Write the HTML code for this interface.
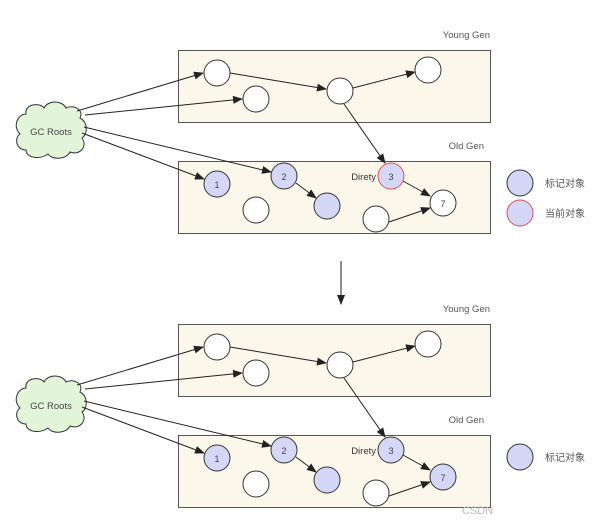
<!DOCTYPE html>
<html><head><meta charset="utf-8"><style>
html,body{margin:0;padding:0;background:#fff;}
svg{display:block;}
text{font-family:"Liberation Sans","Noto Sans CJK SC",sans-serif;}
</style></head><body>
<svg width="612" height="527" viewBox="0 0 612 527" xmlns="http://www.w3.org/2000/svg">
<defs>
<marker id="a" markerWidth="10" markerHeight="8" refX="9" refY="4" orient="auto" markerUnits="userSpaceOnUse">
<path d="M0,0 L10,4 L0,8 z" fill="#222"/></marker>
<g id="cloud">
<path d="M26,114 C24,104 40,102 44,108 C48,100 62,100 66,108 C74,104 84,110 80,118 C88,122 88,134 82,138 C88,146 80,156 70,152 C66,160 52,160 48,154 C40,160 26,158 26,150 C16,150 14,138 20,134 C12,126 18,114 26,114 Z" fill="#e3f5d9" stroke="#333" stroke-width="1"/>
<text x="51" y="135" font-size="9.5" fill="#444" text-anchor="middle">GC Roots</text>
</g>
</defs>

<!-- TOP -->
<text x="490" y="38" font-size="9.5" fill="#555" text-anchor="end">Young Gen</text>
<rect x="178.5" y="50.5" width="312" height="72" fill="#fbf8eb" stroke="#555" stroke-width="1"/>
<text x="484" y="149" font-size="9.5" fill="#555" text-anchor="end">Old Gen</text>
<rect x="178.5" y="161.5" width="312" height="72" fill="#fbf8eb" stroke="#555" stroke-width="1"/>
<use href="#cloud"/>
<g stroke="#222" stroke-width="1" fill="none" marker-end="url(#a)">
<line x1="77" y1="111" x2="203" y2="73"/>
<line x1="85" y1="115" x2="242" y2="99"/>
<line x1="84" y1="127" x2="271" y2="172"/>
<line x1="82" y1="133" x2="204" y2="179"/>
<line x1="230" y1="73" x2="326" y2="89"/>
<line x1="353" y1="88" x2="415" y2="72"/>
<line x1="344" y1="104" x2="385" y2="163"/>
<line x1="296" y1="183" x2="316" y2="198"/>
<line x1="403" y1="181" x2="430" y2="196"/>
<line x1="389" y1="222" x2="430" y2="208"/>
</g>
<g stroke="#333" stroke-width="1">
<circle cx="217" cy="73" r="13" fill="#fff"/>
<circle cx="256" cy="99" r="13" fill="#fff"/>
<circle cx="340" cy="91" r="13" fill="#fff"/>
<circle cx="428" cy="70" r="13" fill="#fff"/>
<circle cx="217" cy="184" r="13" fill="#d4d8f6"/>
<circle cx="284" cy="176" r="13" fill="#d4d8f6"/>
<circle cx="256" cy="210" r="13" fill="#fff"/>
<circle cx="327" cy="206" r="13" fill="#d4d8f6"/>
<circle cx="376" cy="219" r="13" fill="#fff"/>
<circle cx="443" cy="203" r="13" fill="#fff"/>
<circle cx="520" cy="183" r="13" fill="#d4d8f6"/>
</g>
<circle cx="391" cy="176" r="13" fill="#d4d8f6" stroke="#e05050" stroke-width="1"/>
<circle cx="520" cy="213" r="13" fill="#d4d8f6" stroke="#e05050" stroke-width="1"/>
<g font-size="9" fill="#444" text-anchor="middle">
<text x="217" y="188">1</text><text x="284" y="180">2</text><text x="391" y="180">3</text><text x="443" y="207">7</text>
</g>
<text x="376" y="180" font-size="9.5" fill="#333" text-anchor="end">Direty</text>
<text x="545" y="187" font-size="10" fill="#555">标记对象</text>
<text x="545" y="217" font-size="10" fill="#555">当前对象</text>

<!-- ARROW DOWN -->
<line x1="341" y1="261" x2="341" y2="304" stroke="#444" stroke-width="1.2" marker-end="url(#a)"/>

<!-- BOTTOM -->
<text x="490" y="312" font-size="9.5" fill="#555" text-anchor="end">Young Gen</text>
<rect x="178.5" y="324.5" width="312" height="72" fill="#fbf8eb" stroke="#555" stroke-width="1"/>
<text x="484" y="423" font-size="9.5" fill="#555" text-anchor="end">Old Gen</text>
<rect x="178.5" y="435.5" width="312" height="72" fill="#fbf8eb" stroke="#555" stroke-width="1"/>
<use href="#cloud" transform="translate(0,274)"/>
<g transform="translate(0,274)">
<g stroke="#222" stroke-width="1" fill="none" marker-end="url(#a)">
<line x1="77" y1="111" x2="203" y2="73"/>
<line x1="85" y1="115" x2="242" y2="99"/>
<line x1="84" y1="127" x2="271" y2="172"/>
<line x1="82" y1="133" x2="204" y2="179"/>
<line x1="230" y1="73" x2="326" y2="89"/>
<line x1="353" y1="88" x2="415" y2="72"/>
<line x1="344" y1="104" x2="385" y2="163"/>
<line x1="296" y1="183" x2="316" y2="198"/>
<line x1="403" y1="181" x2="430" y2="196"/>
<line x1="389" y1="222" x2="430" y2="208"/>
</g>
<g stroke="#333" stroke-width="1">
<circle cx="217" cy="73" r="13" fill="#fff"/>
<circle cx="256" cy="99" r="13" fill="#fff"/>
<circle cx="340" cy="91" r="13" fill="#fff"/>
<circle cx="428" cy="70" r="13" fill="#fff"/>
<circle cx="217" cy="184" r="13" fill="#d4d8f6"/>
<circle cx="284" cy="176" r="13" fill="#d4d8f6"/>
<circle cx="256" cy="210" r="13" fill="#fff"/>
<circle cx="327" cy="206" r="13" fill="#d4d8f6"/>
<circle cx="376" cy="219" r="13" fill="#fff"/>
<circle cx="443" cy="203" r="13" fill="#d4d8f6"/>
<circle cx="391" cy="176" r="13" fill="#d4d8f6"/>
<circle cx="520" cy="183" r="13" fill="#d4d8f6"/>
</g>
<g font-size="9" fill="#444" text-anchor="middle">
<text x="217" y="188">1</text><text x="284" y="180">2</text><text x="391" y="180">3</text><text x="443" y="207">7</text>
</g>
<text x="376" y="180" font-size="9.5" fill="#333" text-anchor="end">Direty</text>
<text x="545" y="187" font-size="10" fill="#555">标记对象</text>
</g>
<text x="462" y="514" font-size="11" fill="#bbb">CSDN</text>
</svg>
</body></html>
